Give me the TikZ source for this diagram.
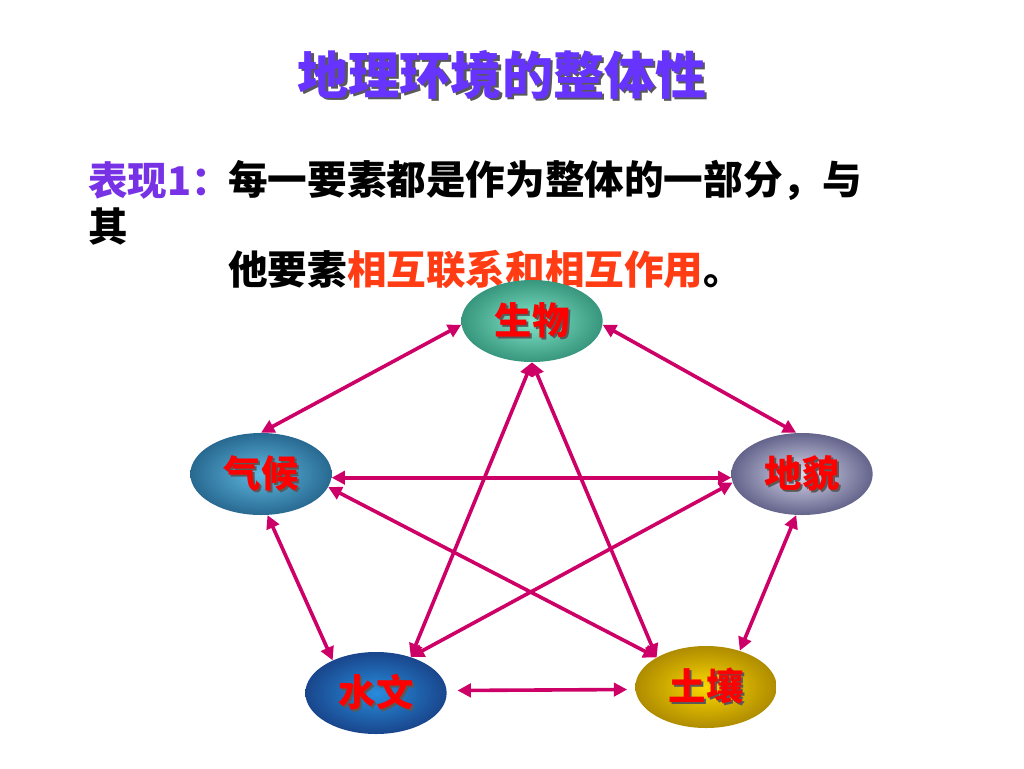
\documentclass[tikz,border=0pt]{standalone}
\usepackage{fontspec}
\newfontfamily\cjk{Noto Sans CJK SC}
\usetikzlibrary{arrows.meta,shapes.geometric}
\definecolor{titlepurple}{RGB}{102,51,255}
\definecolor{leadpurple}{RGB}{120,50,230}
\definecolor{hl}{RGB}{255,60,20}
\definecolor{linkc}{RGB}{204,0,102}
\definecolor{labred}{RGB}{255,0,0}
\newcommand{\shtxt}[3]{\makebox[0pt][l]{\hspace{#3}\raisebox{-#3}{\color{black!65}#2}}{\color{#1}#2}}
\begin{document}
\begin{tikzpicture}[x=0.75pt,y=-0.75pt,
  elem/.style={ellipse, minimum width=106pt, minimum height=61.5pt, inner sep=0pt,
    font=\cjk\bfseries\fontsize{28}{28}\selectfont},
  bodytext/.style={anchor=west, inner sep=0pt, font=\cjk\bfseries\fontsize{29.7}{30}\selectfont},
  link/.style={draw=linkc, line width=2.7pt,
    {Triangle[length=10pt,width=10pt]}-{Triangle[length=10pt,width=10pt]}}]
\useasboundingbox (0,0) rectangle (1024,768);
% title
\node[inner sep=0pt, font=\cjk\bfseries\fontsize{38.3}{40}\selectfont] (title) at (502,76)
  {\shtxt{titlepurple}{地理环境的整体性}{1.8pt}};
% statement
\node[bodytext, text=leadpurple] (lead) at (88,180) {表现1：};
\node[bodytext] (l1) at (228,180) {每一要素都是作为整体的一部分，与};
\node[bodytext] (l2) at (88,226) {其};
\node[bodytext] (l3) at (228,270) {他要素\textcolor{hl}{相互联系和相互作用}。};
% elements
\node[elem, shading=radial, inner color={rgb,255:red,130;green,230;blue,200}, outer color={rgb,255:red,55;green,150;blue,125}] (sw) at (532,321) {\shtxt{labred}{生物}{1.5pt}};
\node[elem, shading=radial, inner color={rgb,255:red,95;green,185;blue,225}, outer color={rgb,255:red,40;green,105;blue,145}] (qh) at (261,474) {\shtxt{labred}{气候}{1.5pt}};
\node[elem, shading=radial, inner color={rgb,255:red,215;green,215;blue,235}, outer color={rgb,255:red,100;green,100;blue,140}] (dm) at (802,474) {\shtxt{labred}{地貌}{1.5pt}};
\node[elem, shading=radial, inner color={rgb,255:red,40;green,140;blue,220}, outer color={rgb,255:red,25;green,70;blue,140}] (sv) at (376,693) {\shtxt{labred}{水文}{1.5pt}};
\node[elem, shading=radial, inner color={rgb,255:red,250;green,215;blue,0}, outer color={rgb,255:red,175;green,140;blue,0}] (tr) at (706,687) {\shtxt{labred}{土壤}{1.5pt}};
% connectors
\draw[link] (qh.north) -- (sw.183);
\draw[link] (sw.-3) -- (dm.98);
\draw[link] (qh.279) -- (sv.143);
\draw[link] (dm.262) -- (tr.47);
\draw[link, shorten <=8pt, shorten >=6pt] (sv.2.5) -- (tr.182.5);
\draw[link] (sw.south) -- (sv.46);
\draw[link] (sw.south) -- (tr.149);
\draw[link] (qh.-3) -- (dm.183);
\draw[link] (qh.-11) -- (tr.149);
\draw[link] (dm.187) -- (sv.46);
\end{tikzpicture}
\end{document}
